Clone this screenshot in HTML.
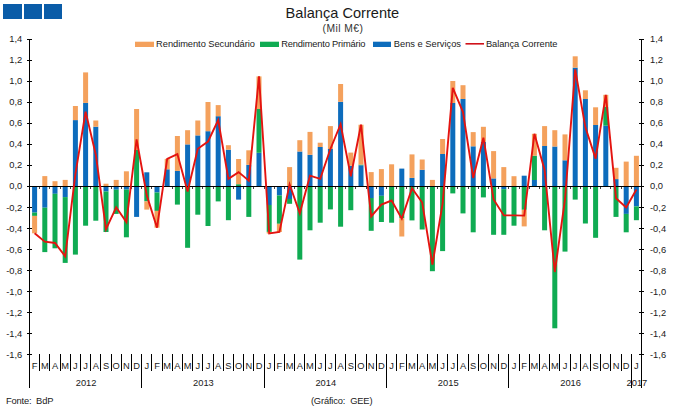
<!DOCTYPE html>
<html><head><meta charset="utf-8"><title>Balança Corrente</title>
<style>
html,body{margin:0;padding:0;background:#fff;width:680px;height:418px;overflow:hidden;font-family:"Liberation Sans",sans-serif;}
</style></head><body>
<svg width="680" height="418" viewBox="0 0 680 418" style="position:absolute;left:0;top:0">
<rect width="680" height="418" fill="#fff"/>
<rect x="3" y="4" width="19" height="15" fill="#0a5ca8"/>
<rect x="24" y="4" width="18" height="15" fill="#0a5ca8"/>
<rect x="44" y="4" width="18" height="15" fill="#0a5ca8"/>
<g>
<rect x="32.10" y="186.50" width="5.0" height="26.10" fill="#0d6cbc"/>
<rect x="32.10" y="212.60" width="5.0" height="3.30" fill="#0fab52"/>
<rect x="32.10" y="215.90" width="5.0" height="17.40" fill="#f4a15d"/>
<rect x="42.30" y="176.10" width="5.0" height="10.40" fill="#f4a15d"/>
<rect x="42.30" y="186.50" width="5.0" height="21.20" fill="#0d6cbc"/>
<rect x="42.30" y="207.70" width="5.0" height="44.40" fill="#0fab52"/>
<rect x="52.50" y="181.20" width="5.0" height="5.30" fill="#f4a15d"/>
<rect x="52.50" y="186.50" width="5.0" height="7.30" fill="#0d6cbc"/>
<rect x="52.50" y="193.80" width="5.0" height="54.50" fill="#0fab52"/>
<rect x="62.70" y="179.90" width="5.0" height="6.60" fill="#f4a15d"/>
<rect x="62.70" y="186.50" width="5.0" height="10.60" fill="#0d6cbc"/>
<rect x="62.70" y="197.10" width="5.0" height="65.80" fill="#0fab52"/>
<rect x="72.90" y="120.10" width="5.0" height="66.40" fill="#0d6cbc"/>
<rect x="72.90" y="106.00" width="5.0" height="14.10" fill="#f4a15d"/>
<rect x="72.90" y="186.50" width="5.0" height="68.10" fill="#0fab52"/>
<rect x="83.10" y="102.90" width="5.0" height="83.60" fill="#0d6cbc"/>
<rect x="83.10" y="72.40" width="5.0" height="30.50" fill="#f4a15d"/>
<rect x="83.10" y="186.50" width="5.0" height="39.20" fill="#0fab52"/>
<rect x="93.30" y="126.70" width="5.0" height="59.80" fill="#0d6cbc"/>
<rect x="93.30" y="120.50" width="5.0" height="6.20" fill="#f4a15d"/>
<rect x="93.30" y="186.50" width="5.0" height="34.20" fill="#0fab52"/>
<rect x="103.50" y="183.70" width="5.0" height="2.80" fill="#f4a15d"/>
<rect x="103.50" y="186.50" width="5.0" height="5.00" fill="#0d6cbc"/>
<rect x="103.50" y="191.50" width="5.0" height="40.50" fill="#0fab52"/>
<rect x="113.70" y="179.90" width="5.0" height="6.60" fill="#f4a15d"/>
<rect x="113.70" y="186.50" width="5.0" height="3.20" fill="#0d6cbc"/>
<rect x="113.70" y="189.70" width="5.0" height="24.20" fill="#0fab52"/>
<rect x="123.90" y="171.30" width="5.0" height="15.20" fill="#f4a15d"/>
<rect x="123.90" y="186.50" width="5.0" height="3.10" fill="#0d6cbc"/>
<rect x="123.90" y="189.60" width="5.0" height="47.70" fill="#0fab52"/>
<rect x="134.10" y="150.00" width="5.0" height="36.50" fill="#0fab52"/>
<rect x="134.10" y="109.00" width="5.0" height="41.00" fill="#f4a15d"/>
<rect x="134.10" y="186.50" width="5.0" height="30.40" fill="#0d6cbc"/>
<rect x="144.30" y="172.30" width="5.0" height="14.20" fill="#0d6cbc"/>
<rect x="144.30" y="186.50" width="5.0" height="14.90" fill="#0fab52"/>
<rect x="144.30" y="201.40" width="5.0" height="8.20" fill="#f4a15d"/>
<rect x="154.50" y="186.50" width="5.0" height="6.00" fill="#0d6cbc"/>
<rect x="154.50" y="192.50" width="5.0" height="18.40" fill="#0fab52"/>
<rect x="154.50" y="210.90" width="5.0" height="16.80" fill="#f4a15d"/>
<rect x="164.70" y="169.30" width="5.0" height="17.20" fill="#0d6cbc"/>
<rect x="164.70" y="158.90" width="5.0" height="10.40" fill="#f4a15d"/>
<rect x="174.90" y="170.90" width="5.0" height="15.60" fill="#0d6cbc"/>
<rect x="174.90" y="136.00" width="5.0" height="34.90" fill="#f4a15d"/>
<rect x="174.90" y="186.50" width="5.0" height="18.10" fill="#0fab52"/>
<rect x="185.10" y="144.40" width="5.0" height="42.10" fill="#0d6cbc"/>
<rect x="185.10" y="130.20" width="5.0" height="14.20" fill="#f4a15d"/>
<rect x="185.10" y="186.50" width="5.0" height="61.30" fill="#0fab52"/>
<rect x="195.30" y="135.40" width="5.0" height="51.10" fill="#0d6cbc"/>
<rect x="195.30" y="120.50" width="5.0" height="14.90" fill="#f4a15d"/>
<rect x="195.30" y="186.50" width="5.0" height="28.20" fill="#0fab52"/>
<rect x="205.50" y="131.20" width="5.0" height="55.30" fill="#0d6cbc"/>
<rect x="205.50" y="102.00" width="5.0" height="29.20" fill="#f4a15d"/>
<rect x="205.50" y="186.50" width="5.0" height="39.50" fill="#0fab52"/>
<rect x="215.70" y="116.20" width="5.0" height="70.30" fill="#0d6cbc"/>
<rect x="215.70" y="105.10" width="5.0" height="11.10" fill="#f4a15d"/>
<rect x="215.70" y="186.50" width="5.0" height="14.90" fill="#0fab52"/>
<rect x="225.90" y="149.70" width="5.0" height="36.80" fill="#0d6cbc"/>
<rect x="225.90" y="145.20" width="5.0" height="4.50" fill="#f4a15d"/>
<rect x="225.90" y="186.50" width="5.0" height="33.70" fill="#0fab52"/>
<rect x="236.10" y="184.20" width="5.0" height="2.30" fill="#0fab52"/>
<rect x="236.10" y="159.00" width="5.0" height="25.20" fill="#f4a15d"/>
<rect x="236.10" y="186.50" width="5.0" height="13.10" fill="#0d6cbc"/>
<rect x="246.30" y="164.80" width="5.0" height="21.70" fill="#0d6cbc"/>
<rect x="246.30" y="150.30" width="5.0" height="14.50" fill="#f4a15d"/>
<rect x="246.30" y="186.50" width="5.0" height="30.40" fill="#0fab52"/>
<rect x="256.50" y="152.80" width="5.0" height="33.70" fill="#0d6cbc"/>
<rect x="256.50" y="109.00" width="5.0" height="43.80" fill="#0fab52"/>
<rect x="256.50" y="76.40" width="5.0" height="32.60" fill="#f4a15d"/>
<rect x="266.70" y="186.50" width="5.0" height="18.50" fill="#0d6cbc"/>
<rect x="266.70" y="205.00" width="5.0" height="26.90" fill="#0fab52"/>
<rect x="266.70" y="231.90" width="5.0" height="1.60" fill="#f4a15d"/>
<rect x="276.90" y="186.50" width="5.0" height="9.00" fill="#0d6cbc"/>
<rect x="276.90" y="195.50" width="5.0" height="28.30" fill="#0fab52"/>
<rect x="276.90" y="223.80" width="5.0" height="8.20" fill="#f4a15d"/>
<rect x="287.10" y="167.10" width="5.0" height="19.40" fill="#f4a15d"/>
<rect x="287.10" y="186.50" width="5.0" height="12.50" fill="#0d6cbc"/>
<rect x="287.10" y="199.00" width="5.0" height="4.80" fill="#0fab52"/>
<rect x="297.30" y="151.50" width="5.0" height="35.00" fill="#0d6cbc"/>
<rect x="297.30" y="140.20" width="5.0" height="11.30" fill="#f4a15d"/>
<rect x="297.30" y="186.50" width="5.0" height="73.10" fill="#0fab52"/>
<rect x="307.50" y="154.80" width="5.0" height="31.70" fill="#0d6cbc"/>
<rect x="307.50" y="131.90" width="5.0" height="22.90" fill="#f4a15d"/>
<rect x="307.50" y="186.50" width="5.0" height="43.80" fill="#0fab52"/>
<rect x="317.70" y="147.00" width="5.0" height="39.50" fill="#0d6cbc"/>
<rect x="317.70" y="142.70" width="5.0" height="4.30" fill="#f4a15d"/>
<rect x="317.70" y="186.50" width="5.0" height="36.20" fill="#0fab52"/>
<rect x="327.90" y="149.00" width="5.0" height="37.50" fill="#0d6cbc"/>
<rect x="327.90" y="126.10" width="5.0" height="22.90" fill="#f4a15d"/>
<rect x="327.90" y="186.50" width="5.0" height="22.90" fill="#0fab52"/>
<rect x="338.10" y="101.80" width="5.0" height="84.70" fill="#0d6cbc"/>
<rect x="338.10" y="84.00" width="5.0" height="17.80" fill="#f4a15d"/>
<rect x="338.10" y="186.50" width="5.0" height="40.20" fill="#0fab52"/>
<rect x="348.30" y="165.80" width="5.0" height="20.70" fill="#0d6cbc"/>
<rect x="348.30" y="152.60" width="5.0" height="13.20" fill="#f4a15d"/>
<rect x="348.30" y="186.50" width="5.0" height="23.70" fill="#0fab52"/>
<rect x="358.50" y="165.30" width="5.0" height="21.20" fill="#0d6cbc"/>
<rect x="358.50" y="164.60" width="5.0" height="0.70" fill="#0fab52"/>
<rect x="358.50" y="124.70" width="5.0" height="39.90" fill="#f4a15d"/>
<rect x="368.70" y="172.10" width="5.0" height="14.40" fill="#f4a15d"/>
<rect x="368.70" y="186.50" width="5.0" height="11.50" fill="#0d6cbc"/>
<rect x="368.70" y="198.00" width="5.0" height="32.80" fill="#0fab52"/>
<rect x="378.90" y="169.10" width="5.0" height="17.40" fill="#f4a15d"/>
<rect x="378.90" y="186.50" width="5.0" height="9.30" fill="#0d6cbc"/>
<rect x="378.90" y="195.80" width="5.0" height="26.20" fill="#0fab52"/>
<rect x="389.10" y="164.30" width="5.0" height="22.20" fill="#f4a15d"/>
<rect x="389.10" y="186.50" width="5.0" height="36.20" fill="#0fab52"/>
<rect x="399.30" y="168.60" width="5.0" height="17.90" fill="#0d6cbc"/>
<rect x="399.30" y="186.50" width="5.0" height="31.70" fill="#0fab52"/>
<rect x="399.30" y="218.20" width="5.0" height="18.30" fill="#f4a15d"/>
<rect x="409.50" y="177.90" width="5.0" height="8.60" fill="#0d6cbc"/>
<rect x="409.50" y="154.40" width="5.0" height="23.50" fill="#f4a15d"/>
<rect x="409.50" y="186.50" width="5.0" height="33.90" fill="#0fab52"/>
<rect x="419.70" y="169.80" width="5.0" height="16.70" fill="#0d6cbc"/>
<rect x="419.70" y="159.50" width="5.0" height="10.30" fill="#f4a15d"/>
<rect x="419.70" y="186.50" width="5.0" height="43.00" fill="#0fab52"/>
<rect x="429.90" y="179.90" width="5.0" height="6.60" fill="#f4a15d"/>
<rect x="429.90" y="186.50" width="5.0" height="84.70" fill="#0fab52"/>
<rect x="440.10" y="154.00" width="5.0" height="32.50" fill="#0d6cbc"/>
<rect x="440.10" y="139.00" width="5.0" height="15.00" fill="#f4a15d"/>
<rect x="440.10" y="186.50" width="5.0" height="64.60" fill="#0fab52"/>
<rect x="450.30" y="103.00" width="5.0" height="83.50" fill="#0d6cbc"/>
<rect x="450.30" y="81.00" width="5.0" height="22.00" fill="#f4a15d"/>
<rect x="450.30" y="186.50" width="5.0" height="6.90" fill="#0fab52"/>
<rect x="460.50" y="99.00" width="5.0" height="87.50" fill="#0d6cbc"/>
<rect x="460.50" y="85.20" width="5.0" height="13.80" fill="#f4a15d"/>
<rect x="460.50" y="186.50" width="5.0" height="26.90" fill="#0fab52"/>
<rect x="470.70" y="146.30" width="5.0" height="40.20" fill="#0d6cbc"/>
<rect x="470.70" y="132.10" width="5.0" height="14.20" fill="#f4a15d"/>
<rect x="470.70" y="186.50" width="5.0" height="45.80" fill="#0fab52"/>
<rect x="480.90" y="141.90" width="5.0" height="44.60" fill="#0d6cbc"/>
<rect x="480.90" y="126.80" width="5.0" height="15.10" fill="#f4a15d"/>
<rect x="480.90" y="186.50" width="5.0" height="10.90" fill="#0fab52"/>
<rect x="491.10" y="178.40" width="5.0" height="8.10" fill="#0d6cbc"/>
<rect x="491.10" y="151.10" width="5.0" height="27.30" fill="#f4a15d"/>
<rect x="491.10" y="186.50" width="5.0" height="48.30" fill="#0fab52"/>
<rect x="501.30" y="167.10" width="5.0" height="19.40" fill="#f4a15d"/>
<rect x="501.30" y="186.50" width="5.0" height="2.70" fill="#0d6cbc"/>
<rect x="501.30" y="189.20" width="5.0" height="45.60" fill="#0fab52"/>
<rect x="511.50" y="176.20" width="5.0" height="10.30" fill="#f4a15d"/>
<rect x="511.50" y="186.50" width="5.0" height="39.20" fill="#0fab52"/>
<rect x="521.70" y="175.70" width="5.0" height="10.80" fill="#0d6cbc"/>
<rect x="521.70" y="186.50" width="5.0" height="23.30" fill="#0fab52"/>
<rect x="521.70" y="209.80" width="5.0" height="16.60" fill="#f4a15d"/>
<rect x="531.90" y="180.00" width="5.0" height="6.50" fill="#0d6cbc"/>
<rect x="531.90" y="155.70" width="5.0" height="24.30" fill="#0fab52"/>
<rect x="531.90" y="133.80" width="5.0" height="21.90" fill="#f4a15d"/>
<rect x="542.10" y="146.00" width="5.0" height="40.50" fill="#0d6cbc"/>
<rect x="542.10" y="126.10" width="5.0" height="19.90" fill="#f4a15d"/>
<rect x="542.10" y="186.50" width="5.0" height="43.80" fill="#0fab52"/>
<rect x="552.30" y="146.50" width="5.0" height="40.00" fill="#0d6cbc"/>
<rect x="552.30" y="130.20" width="5.0" height="16.30" fill="#f4a15d"/>
<rect x="552.30" y="186.50" width="5.0" height="141.80" fill="#0fab52"/>
<rect x="562.50" y="160.30" width="5.0" height="26.20" fill="#0d6cbc"/>
<rect x="562.50" y="134.40" width="5.0" height="25.90" fill="#f4a15d"/>
<rect x="562.50" y="186.50" width="5.0" height="65.10" fill="#0fab52"/>
<rect x="572.70" y="67.60" width="5.0" height="118.90" fill="#0d6cbc"/>
<rect x="572.70" y="56.30" width="5.0" height="11.30" fill="#f4a15d"/>
<rect x="572.70" y="186.50" width="5.0" height="13.10" fill="#0fab52"/>
<rect x="582.90" y="99.00" width="5.0" height="87.50" fill="#0d6cbc"/>
<rect x="582.90" y="90.30" width="5.0" height="8.70" fill="#f4a15d"/>
<rect x="582.90" y="186.50" width="5.0" height="37.00" fill="#0fab52"/>
<rect x="593.10" y="125.00" width="5.0" height="61.50" fill="#0d6cbc"/>
<rect x="593.10" y="107.30" width="5.0" height="17.70" fill="#f4a15d"/>
<rect x="593.10" y="186.50" width="5.0" height="51.30" fill="#0fab52"/>
<rect x="603.30" y="125.70" width="5.0" height="60.80" fill="#0d6cbc"/>
<rect x="603.30" y="107.00" width="5.0" height="18.70" fill="#0fab52"/>
<rect x="603.30" y="94.80" width="5.0" height="12.20" fill="#f4a15d"/>
<rect x="613.50" y="179.10" width="5.0" height="7.40" fill="#0d6cbc"/>
<rect x="613.50" y="167.80" width="5.0" height="11.30" fill="#f4a15d"/>
<rect x="613.50" y="186.50" width="5.0" height="30.40" fill="#0fab52"/>
<rect x="623.70" y="161.60" width="5.0" height="24.90" fill="#f4a15d"/>
<rect x="623.70" y="186.50" width="5.0" height="27.40" fill="#0d6cbc"/>
<rect x="623.70" y="213.90" width="5.0" height="18.40" fill="#0fab52"/>
<rect x="633.90" y="155.80" width="5.0" height="30.70" fill="#f4a15d"/>
<rect x="633.90" y="186.50" width="5.0" height="19.90" fill="#0d6cbc"/>
<rect x="633.90" y="206.40" width="5.0" height="13.80" fill="#0fab52"/>
</g>
<g fill="#000" shape-rendering="crispEdges">
<rect x="29" y="39" width="1" height="349"/>
<rect x="641" y="39" width="1" height="349"/>
<rect x="29" y="186" width="615" height="1"/>
<rect x="27" y="39" width="5" height="1"/>
<rect x="639" y="39" width="5" height="1"/>
<rect x="27" y="60" width="5" height="1"/>
<rect x="639" y="60" width="5" height="1"/>
<rect x="27" y="81" width="5" height="1"/>
<rect x="639" y="81" width="5" height="1"/>
<rect x="27" y="102" width="5" height="1"/>
<rect x="639" y="102" width="5" height="1"/>
<rect x="27" y="123" width="5" height="1"/>
<rect x="639" y="123" width="5" height="1"/>
<rect x="27" y="144" width="5" height="1"/>
<rect x="639" y="144" width="5" height="1"/>
<rect x="27" y="165" width="5" height="1"/>
<rect x="639" y="165" width="5" height="1"/>
<rect x="27" y="186" width="5" height="1"/>
<rect x="639" y="186" width="5" height="1"/>
<rect x="27" y="207" width="5" height="1"/>
<rect x="639" y="207" width="5" height="1"/>
<rect x="27" y="228" width="5" height="1"/>
<rect x="639" y="228" width="5" height="1"/>
<rect x="27" y="249" width="5" height="1"/>
<rect x="639" y="249" width="5" height="1"/>
<rect x="27" y="270" width="5" height="1"/>
<rect x="639" y="270" width="5" height="1"/>
<rect x="27" y="291" width="5" height="1"/>
<rect x="639" y="291" width="5" height="1"/>
<rect x="27" y="312" width="5" height="1"/>
<rect x="639" y="312" width="5" height="1"/>
<rect x="27" y="333" width="5" height="1"/>
<rect x="639" y="333" width="5" height="1"/>
<rect x="27" y="354" width="5" height="1"/>
<rect x="639" y="354" width="5" height="1"/>
<rect x="39" y="187" width="1" height="2" fill="#444"/>
<rect x="49" y="187" width="1" height="2" fill="#444"/>
<rect x="60" y="187" width="1" height="2" fill="#444"/>
<rect x="70" y="187" width="1" height="2" fill="#444"/>
<rect x="80" y="187" width="1" height="2" fill="#444"/>
<rect x="90" y="187" width="1" height="2" fill="#444"/>
<rect x="100" y="187" width="1" height="2" fill="#444"/>
<rect x="111" y="187" width="1" height="2" fill="#444"/>
<rect x="121" y="187" width="1" height="2" fill="#444"/>
<rect x="131" y="187" width="1" height="2" fill="#444"/>
<rect x="141" y="187" width="1" height="2" fill="#444"/>
<rect x="151" y="187" width="1" height="2" fill="#444"/>
<rect x="162" y="187" width="1" height="2" fill="#444"/>
<rect x="172" y="187" width="1" height="2" fill="#444"/>
<rect x="182" y="187" width="1" height="2" fill="#444"/>
<rect x="192" y="187" width="1" height="2" fill="#444"/>
<rect x="202" y="187" width="1" height="2" fill="#444"/>
<rect x="213" y="187" width="1" height="2" fill="#444"/>
<rect x="223" y="187" width="1" height="2" fill="#444"/>
<rect x="233" y="187" width="1" height="2" fill="#444"/>
<rect x="243" y="187" width="1" height="2" fill="#444"/>
<rect x="253" y="187" width="1" height="2" fill="#444"/>
<rect x="264" y="187" width="1" height="2" fill="#444"/>
<rect x="274" y="187" width="1" height="2" fill="#444"/>
<rect x="284" y="187" width="1" height="2" fill="#444"/>
<rect x="294" y="187" width="1" height="2" fill="#444"/>
<rect x="304" y="187" width="1" height="2" fill="#444"/>
<rect x="315" y="187" width="1" height="2" fill="#444"/>
<rect x="325" y="187" width="1" height="2" fill="#444"/>
<rect x="335" y="187" width="1" height="2" fill="#444"/>
<rect x="345" y="187" width="1" height="2" fill="#444"/>
<rect x="355" y="187" width="1" height="2" fill="#444"/>
<rect x="366" y="187" width="1" height="2" fill="#444"/>
<rect x="376" y="187" width="1" height="2" fill="#444"/>
<rect x="386" y="187" width="1" height="2" fill="#444"/>
<rect x="396" y="187" width="1" height="2" fill="#444"/>
<rect x="406" y="187" width="1" height="2" fill="#444"/>
<rect x="417" y="187" width="1" height="2" fill="#444"/>
<rect x="427" y="187" width="1" height="2" fill="#444"/>
<rect x="437" y="187" width="1" height="2" fill="#444"/>
<rect x="447" y="187" width="1" height="2" fill="#444"/>
<rect x="457" y="187" width="1" height="2" fill="#444"/>
<rect x="468" y="187" width="1" height="2" fill="#444"/>
<rect x="478" y="187" width="1" height="2" fill="#444"/>
<rect x="488" y="187" width="1" height="2" fill="#444"/>
<rect x="498" y="187" width="1" height="2" fill="#444"/>
<rect x="508" y="187" width="1" height="2" fill="#444"/>
<rect x="519" y="187" width="1" height="2" fill="#444"/>
<rect x="529" y="187" width="1" height="2" fill="#444"/>
<rect x="539" y="187" width="1" height="2" fill="#444"/>
<rect x="549" y="187" width="1" height="2" fill="#444"/>
<rect x="559" y="187" width="1" height="2" fill="#444"/>
<rect x="570" y="187" width="1" height="2" fill="#444"/>
<rect x="580" y="187" width="1" height="2" fill="#444"/>
<rect x="590" y="187" width="1" height="2" fill="#444"/>
<rect x="600" y="187" width="1" height="2" fill="#444"/>
<rect x="610" y="187" width="1" height="2" fill="#444"/>
<rect x="621" y="187" width="1" height="2" fill="#444"/>
<rect x="631" y="187" width="1" height="2" fill="#444"/>
<rect x="39" y="354" width="1" height="17"/>
<rect x="49" y="354" width="1" height="17"/>
<rect x="60" y="354" width="1" height="17"/>
<rect x="70" y="354" width="1" height="17"/>
<rect x="80" y="354" width="1" height="17"/>
<rect x="90" y="354" width="1" height="17"/>
<rect x="100" y="354" width="1" height="17"/>
<rect x="111" y="354" width="1" height="17"/>
<rect x="121" y="354" width="1" height="17"/>
<rect x="131" y="354" width="1" height="17"/>
<rect x="141" y="354" width="1" height="34"/>
<rect x="151" y="354" width="1" height="17"/>
<rect x="162" y="354" width="1" height="17"/>
<rect x="172" y="354" width="1" height="17"/>
<rect x="182" y="354" width="1" height="17"/>
<rect x="192" y="354" width="1" height="17"/>
<rect x="202" y="354" width="1" height="17"/>
<rect x="213" y="354" width="1" height="17"/>
<rect x="223" y="354" width="1" height="17"/>
<rect x="233" y="354" width="1" height="17"/>
<rect x="243" y="354" width="1" height="17"/>
<rect x="253" y="354" width="1" height="17"/>
<rect x="264" y="354" width="1" height="34"/>
<rect x="274" y="354" width="1" height="17"/>
<rect x="284" y="354" width="1" height="17"/>
<rect x="294" y="354" width="1" height="17"/>
<rect x="304" y="354" width="1" height="17"/>
<rect x="315" y="354" width="1" height="17"/>
<rect x="325" y="354" width="1" height="17"/>
<rect x="335" y="354" width="1" height="17"/>
<rect x="345" y="354" width="1" height="17"/>
<rect x="355" y="354" width="1" height="17"/>
<rect x="366" y="354" width="1" height="17"/>
<rect x="376" y="354" width="1" height="17"/>
<rect x="386" y="354" width="1" height="34"/>
<rect x="396" y="354" width="1" height="17"/>
<rect x="406" y="354" width="1" height="17"/>
<rect x="417" y="354" width="1" height="17"/>
<rect x="427" y="354" width="1" height="17"/>
<rect x="437" y="354" width="1" height="17"/>
<rect x="447" y="354" width="1" height="17"/>
<rect x="457" y="354" width="1" height="17"/>
<rect x="468" y="354" width="1" height="17"/>
<rect x="478" y="354" width="1" height="17"/>
<rect x="488" y="354" width="1" height="17"/>
<rect x="498" y="354" width="1" height="17"/>
<rect x="508" y="354" width="1" height="34"/>
<rect x="519" y="354" width="1" height="17"/>
<rect x="529" y="354" width="1" height="17"/>
<rect x="539" y="354" width="1" height="17"/>
<rect x="549" y="354" width="1" height="17"/>
<rect x="559" y="354" width="1" height="17"/>
<rect x="570" y="354" width="1" height="17"/>
<rect x="580" y="354" width="1" height="17"/>
<rect x="590" y="354" width="1" height="17"/>
<rect x="600" y="354" width="1" height="17"/>
<rect x="610" y="354" width="1" height="17"/>
<rect x="621" y="354" width="1" height="17"/>
<rect x="631" y="354" width="1" height="34"/>
</g>
<polyline points="34.6,233.3 44.8,241.7 55.0,243.0 65.2,256.3 75.4,174.1 85.6,111.6 95.8,154.7 106.0,229.2 116.2,207.3 126.4,222.1 136.6,139.4 146.8,195.4 157.0,227.7 167.2,158.9 177.4,154.1 187.6,191.5 197.8,148.7 208.0,141.5 218.2,120.0 228.4,178.9 238.6,172.1 248.8,180.7 259.0,76.4 269.2,233.5 279.4,232.0 289.6,184.4 299.8,213.3 310.0,175.7 320.2,178.9 330.4,149.0 340.6,124.2 350.8,176.3 361.0,124.7 371.2,216.4 381.4,204.6 391.6,200.5 401.8,218.6 412.0,188.3 422.2,202.5 432.4,264.6 442.6,203.6 452.8,87.9 463.0,112.1 473.2,177.9 483.4,137.7 493.6,199.4 503.8,215.4 514.0,215.4 524.2,215.6 534.4,133.8 544.6,169.9 554.8,272.0 565.0,199.5 575.2,69.4 585.4,127.3 595.6,158.6 605.8,94.8 616.0,198.2 626.2,207.4 636.4,189.5" fill="none" stroke="#e41410" stroke-width="1.9" stroke-linejoin="miter" stroke-linecap="butt"/>
<g font-family="Liberation Sans, sans-serif" fill="#1a1a1a">
<text x="342.4" y="18.4" font-size="14.6" text-anchor="middle">Balança Corrente</text>
<text x="342.9" y="32.4" font-size="10.3" text-anchor="middle" fill="#333" letter-spacing="0.45">(Mil M€)</text>
<rect x="135" y="41.7" width="19" height="5.3" fill="#f4a15d"/>
<text x="156.1" y="46.8" font-size="9.3" textLength="98.8">Rendimento Secundário</text>
<rect x="260" y="41.7" width="19" height="5.3" fill="#0fab52"/>
<text x="281.3" y="46.8" font-size="9.3" textLength="84.2">Rendimento Primário</text>
<rect x="373" y="41.7" width="18" height="5.3" fill="#0d6cbc"/>
<text x="393.8" y="46.8" font-size="9.3">Bens e Serviços</text>
<rect x="465.5" y="43" width="18.5" height="1.6" fill="#d0121a"/>
<text x="485.9" y="46.8" font-size="9.3" textLength="71.6">Balança Corrente</text>
<text x="22.3" y="42.0" font-size="9.33" text-anchor="end">1,4</text>
<text x="650" y="42.0" font-size="9.33">1,4</text>
<text x="22.3" y="63.1" font-size="9.33" text-anchor="end">1,2</text>
<text x="650" y="63.1" font-size="9.33">1,2</text>
<text x="22.3" y="84.1" font-size="9.33" text-anchor="end">1,0</text>
<text x="650" y="84.1" font-size="9.33">1,0</text>
<text x="22.3" y="105.2" font-size="9.33" text-anchor="end">0,8</text>
<text x="650" y="105.2" font-size="9.33">0,8</text>
<text x="22.3" y="126.2" font-size="9.33" text-anchor="end">0,6</text>
<text x="650" y="126.2" font-size="9.33">0,6</text>
<text x="22.3" y="147.3" font-size="9.33" text-anchor="end">0,4</text>
<text x="650" y="147.3" font-size="9.33">0,4</text>
<text x="22.3" y="168.4" font-size="9.33" text-anchor="end">0,2</text>
<text x="650" y="168.4" font-size="9.33">0,2</text>
<text x="22.3" y="189.4" font-size="9.33" text-anchor="end">0,0</text>
<text x="650" y="189.4" font-size="9.33">0,0</text>
<text x="22.3" y="210.5" font-size="9.33" text-anchor="end">-0,2</text>
<text x="650" y="210.5" font-size="9.33">-0,2</text>
<text x="22.3" y="231.5" font-size="9.33" text-anchor="end">-0,4</text>
<text x="650" y="231.5" font-size="9.33">-0,4</text>
<text x="22.3" y="252.6" font-size="9.33" text-anchor="end">-0,6</text>
<text x="650" y="252.6" font-size="9.33">-0,6</text>
<text x="22.3" y="273.7" font-size="9.33" text-anchor="end">-0,8</text>
<text x="650" y="273.7" font-size="9.33">-0,8</text>
<text x="22.3" y="294.7" font-size="9.33" text-anchor="end">-1,0</text>
<text x="650" y="294.7" font-size="9.33">-1,0</text>
<text x="22.3" y="315.8" font-size="9.33" text-anchor="end">-1,2</text>
<text x="650" y="315.8" font-size="9.33">-1,2</text>
<text x="22.3" y="336.8" font-size="9.33" text-anchor="end">-1,4</text>
<text x="650" y="336.8" font-size="9.33">-1,4</text>
<text x="22.3" y="357.9" font-size="9.33" text-anchor="end">-1,6</text>
<text x="650" y="357.9" font-size="9.33">-1,6</text>
<text x="34.6" y="369.3" font-size="9.33" text-anchor="middle">F</text>
<text x="44.8" y="369.3" font-size="9.33" text-anchor="middle">M</text>
<text x="55.0" y="369.3" font-size="9.33" text-anchor="middle">A</text>
<text x="65.2" y="369.3" font-size="9.33" text-anchor="middle">M</text>
<text x="75.4" y="369.3" font-size="9.33" text-anchor="middle">J</text>
<text x="85.6" y="369.3" font-size="9.33" text-anchor="middle">J</text>
<text x="95.8" y="369.3" font-size="9.33" text-anchor="middle">A</text>
<text x="106.0" y="369.3" font-size="9.33" text-anchor="middle">S</text>
<text x="116.2" y="369.3" font-size="9.33" text-anchor="middle">O</text>
<text x="126.4" y="369.3" font-size="9.33" text-anchor="middle">N</text>
<text x="136.6" y="369.3" font-size="9.33" text-anchor="middle">D</text>
<text x="146.8" y="369.3" font-size="9.33" text-anchor="middle">J</text>
<text x="157.0" y="369.3" font-size="9.33" text-anchor="middle">F</text>
<text x="167.2" y="369.3" font-size="9.33" text-anchor="middle">M</text>
<text x="177.4" y="369.3" font-size="9.33" text-anchor="middle">A</text>
<text x="187.6" y="369.3" font-size="9.33" text-anchor="middle">M</text>
<text x="197.8" y="369.3" font-size="9.33" text-anchor="middle">J</text>
<text x="208.0" y="369.3" font-size="9.33" text-anchor="middle">J</text>
<text x="218.2" y="369.3" font-size="9.33" text-anchor="middle">A</text>
<text x="228.4" y="369.3" font-size="9.33" text-anchor="middle">S</text>
<text x="238.6" y="369.3" font-size="9.33" text-anchor="middle">O</text>
<text x="248.8" y="369.3" font-size="9.33" text-anchor="middle">N</text>
<text x="259.0" y="369.3" font-size="9.33" text-anchor="middle">D</text>
<text x="269.2" y="369.3" font-size="9.33" text-anchor="middle">J</text>
<text x="279.4" y="369.3" font-size="9.33" text-anchor="middle">F</text>
<text x="289.6" y="369.3" font-size="9.33" text-anchor="middle">M</text>
<text x="299.8" y="369.3" font-size="9.33" text-anchor="middle">A</text>
<text x="310.0" y="369.3" font-size="9.33" text-anchor="middle">M</text>
<text x="320.2" y="369.3" font-size="9.33" text-anchor="middle">J</text>
<text x="330.4" y="369.3" font-size="9.33" text-anchor="middle">J</text>
<text x="340.6" y="369.3" font-size="9.33" text-anchor="middle">A</text>
<text x="350.8" y="369.3" font-size="9.33" text-anchor="middle">S</text>
<text x="361.0" y="369.3" font-size="9.33" text-anchor="middle">O</text>
<text x="371.2" y="369.3" font-size="9.33" text-anchor="middle">N</text>
<text x="381.4" y="369.3" font-size="9.33" text-anchor="middle">D</text>
<text x="391.6" y="369.3" font-size="9.33" text-anchor="middle">J</text>
<text x="401.8" y="369.3" font-size="9.33" text-anchor="middle">F</text>
<text x="412.0" y="369.3" font-size="9.33" text-anchor="middle">M</text>
<text x="422.2" y="369.3" font-size="9.33" text-anchor="middle">A</text>
<text x="432.4" y="369.3" font-size="9.33" text-anchor="middle">M</text>
<text x="442.6" y="369.3" font-size="9.33" text-anchor="middle">J</text>
<text x="452.8" y="369.3" font-size="9.33" text-anchor="middle">J</text>
<text x="463.0" y="369.3" font-size="9.33" text-anchor="middle">A</text>
<text x="473.2" y="369.3" font-size="9.33" text-anchor="middle">S</text>
<text x="483.4" y="369.3" font-size="9.33" text-anchor="middle">O</text>
<text x="493.6" y="369.3" font-size="9.33" text-anchor="middle">N</text>
<text x="503.8" y="369.3" font-size="9.33" text-anchor="middle">D</text>
<text x="514.0" y="369.3" font-size="9.33" text-anchor="middle">J</text>
<text x="524.2" y="369.3" font-size="9.33" text-anchor="middle">F</text>
<text x="534.4" y="369.3" font-size="9.33" text-anchor="middle">M</text>
<text x="544.6" y="369.3" font-size="9.33" text-anchor="middle">A</text>
<text x="554.8" y="369.3" font-size="9.33" text-anchor="middle">M</text>
<text x="565.0" y="369.3" font-size="9.33" text-anchor="middle">J</text>
<text x="575.2" y="369.3" font-size="9.33" text-anchor="middle">J</text>
<text x="585.4" y="369.3" font-size="9.33" text-anchor="middle">A</text>
<text x="595.6" y="369.3" font-size="9.33" text-anchor="middle">S</text>
<text x="605.8" y="369.3" font-size="9.33" text-anchor="middle">O</text>
<text x="616.0" y="369.3" font-size="9.33" text-anchor="middle">N</text>
<text x="626.2" y="369.3" font-size="9.33" text-anchor="middle">D</text>
<text x="636.4" y="369.3" font-size="9.33" text-anchor="middle">J</text>
<text x="86.1" y="386.3" font-size="9.33" text-anchor="middle">2012</text>
<text x="203.4" y="386.3" font-size="9.33" text-anchor="middle">2013</text>
<text x="325.8" y="386.3" font-size="9.33" text-anchor="middle">2014</text>
<text x="448.2" y="386.3" font-size="9.33" text-anchor="middle">2015</text>
<text x="570.6" y="386.3" font-size="9.33" text-anchor="middle">2016</text>
<text x="636.9" y="386.3" font-size="9.33" text-anchor="middle">2017</text>
<text x="6" y="403.8" font-size="9.33" xml:space="preserve" textLength="47.4">Fonte:  BdP</text>
<text x="341.7" y="403.8" font-size="9.33" text-anchor="middle" xml:space="preserve" textLength="61.6">(Gráfico:  GEE)</text>
</g>
</svg>
</body></html>
